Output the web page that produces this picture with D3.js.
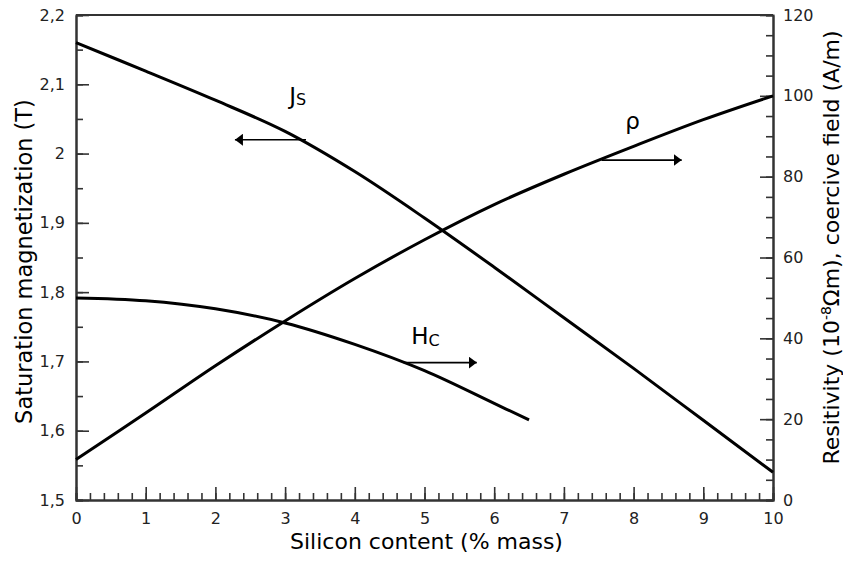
<!DOCTYPE html>
<html>
<head>
<meta charset="utf-8">
<script src="https://cdn.jsdelivr.net/npm/d3@7"></script>
<style>
  body { margin: 0; background: #fff; }
  text { font-family: "DejaVu Sans", sans-serif; }
</style>
</head>
<body>
<div id="chart"></div>
<script>
// silicon content (% mass) and the three measured curves
const siContent = [0, 1, 2, 3, 4, 5, 6, 7, 8, 9, 10];
const saturationJs = [2.16, 2.119, 2.077, 2.032, 1.974, 1.907, 1.836, 1.763, 1.690, 1.615, 1.540];
const resistivityRho = [10, 21.5, 33.2, 44.3, 54.8, 64.4, 73.1, 80.6, 87.5, 94.1, 100];
const hcSiContent = [0, 1, 2, 3, 4, 5, 6, 6.5];
const coerciveHc = [50, 49.3, 47.3, 43.8, 38.5, 32.0, 23.9, 19.8];

// tick labels
const xTicks = [0, 1, 2, 3, 4, 5, 6, 7, 8, 9, 10];
const leftTicks = [1.5, 1.6, 1.7, 1.8, 1.9, 2.0, 2.1, 2.2];
const rightTicks = [0, 20, 40, 60, 80, 100, 120];

// arrows telling which axis a curve belongs to
const arrowSeries = ['Js', 'rho', 'Hc'];
const arrowFrom = [3.3, 7.54, 4.70];
const arrowTo = [2.28, 8.69, 5.75];
const arrowLevel = [2.02, 84.1, 34.0];

const width = 843, height = 563;
const margin = {top: 15, right: 70, bottom: 63, left: 76};
const innerW = width - margin.left - margin.right;
const innerH = height - margin.top - margin.bottom;

const svg = d3.select('#chart').append('svg')
    .attr('width', width)
    .attr('height', height);

svg.append('defs').append('marker')
    .attr('id', 'head')
    .attr('markerUnits', 'userSpaceOnUse')
    .attr('viewBox', '0 -6 8 12')
    .attr('refX', 8).attr('refY', 0)
    .attr('markerWidth', 8).attr('markerHeight', 12)
    .attr('orient', 'auto')
    .append('path')
    .attr('d', 'M0,-6L8,0L0,6Z')
    .attr('fill', '#000');

const g = svg.append('g')
    .attr('transform', 'translate(' + margin.left + ',' + margin.top + ')');

const x = d3.scaleLinear().domain([0, 10]).range([0, innerW]);
const yL = d3.scaleLinear().domain([1.5, 2.2]).range([innerH, 0]);
const yR = d3.scaleLinear().domain([0, 120]).range([innerH, 0]);

const comma = d => String(+d.toFixed(2)).replace('.', ',');

const styleAxis = sel => {
    sel.selectAll('.domain').attr('stroke', '#333').attr('stroke-width', 2);
    sel.selectAll('.tick line').attr('stroke', '#333').attr('stroke-width', 1.6);
    sel.selectAll('.tick text').attr('fill', '#222').style('font-size', '16px');
};

// minor ticks first
g.append('g').attr('transform', 'translate(0,' + innerH + ')')
    .call(d3.axisBottom(x).tickValues(d3.range(0, 10.01, 0.2)).tickSize(-7).tickFormat(''))
    .call(styleAxis);
g.append('g')
    .call(d3.axisLeft(yL).tickValues(d3.range(1.5, 2.201, 0.05)).tickSize(-7).tickFormat(''))
    .call(styleAxis);
g.append('g').attr('transform', 'translate(' + innerW + ',0)')
    .call(d3.axisRight(yR).tickValues(d3.range(0, 120.1, 5)).tickSize(-7).tickFormat(''))
    .call(styleAxis);

// major ticks with labels
g.append('g').attr('transform', 'translate(0,' + innerH + ')')
    .call(d3.axisBottom(x).tickValues(xTicks).tickSizeInner(-13).tickSizeOuter(0).tickPadding(13))
    .call(styleAxis);
g.append('g')
    .call(d3.axisLeft(yL).tickValues(leftTicks).tickSizeInner(-13).tickSizeOuter(0).tickPadding(11).tickFormat(comma))
    .call(styleAxis);
g.append('g').attr('transform', 'translate(' + innerW + ',0)')
    .call(d3.axisRight(yR).tickValues(rightTicks).tickSizeInner(-13).tickSizeOuter(0).tickPadding(10))
    .call(styleAxis);

g.append('line')
    .attr('x1', 0).attr('x2', innerW)
    .attr('y1', 0).attr('y2', 0)
    .attr('stroke', '#333').attr('stroke-width', 2);

// curves
const curve = (xs, ys, yScale) => d3.line()
    .x((d, i) => x(xs[i]))
    .y(d => yScale(d))
    .curve(d3.curveCatmullRom.alpha(0.5))(ys);

[[siContent, saturationJs, yL], [siContent, resistivityRho, yR], [hcSiContent, coerciveHc, yR]]
    .forEach(s => {
        g.append('path')
            .attr('d', curve(s[0], s[1], s[2]))
            .attr('fill', 'none')
            .attr('stroke', '#000')
            .attr('stroke-width', 3);
    });

// arrows
arrowSeries.forEach((s, i) => {
    const yy = s === 'Js' ? yL(arrowLevel[i]) : yR(arrowLevel[i]);
    g.append('line')
        .attr('x1', x(arrowFrom[i])).attr('x2', x(arrowTo[i]))
        .attr('y1', yy).attr('y2', yy)
        .attr('stroke', '#000').attr('stroke-width', 1.6)
        .attr('marker-end', 'url(#head)');
});

// curve labels
const lbl = g.append('text')
    .attr('x', x(3.06)).attr('y', yL(2.0716))
    .style('font-size', '23px');
lbl.append('tspan').text('J');
lbl.append('tspan').attr('dy', 1).style('font-size', '16px').text('S');

g.append('text')
    .attr('x', x(7.88)).attr('y', yR(91.7))
    .style('font-size', '23px')
    .text('ρ');

const hc = g.append('text')
    .attr('x', x(4.81)).attr('y', yR(38.6))
    .style('font-size', '23px');
hc.append('tspan').text('H');
hc.append('tspan').attr('dy', 2).style('font-size', '16px').text('C');

// axis titles
g.append('text')
    .attr('x', innerW / 2 + 2).attr('y', innerH + 49)
    .attr('text-anchor', 'middle')
    .style('font-size', '22px')
    .text('Silicon content (% mass)');

g.append('text')
    .attr('transform', 'translate(' + (32 - margin.left) + ',' + (innerH / 2 + 4) + ') rotate(-90)')
    .attr('text-anchor', 'middle')
    .style('font-size', '22.5px')
    .text('Saturation magnetization (T)');

const rt = g.append('text')
    .attr('transform', 'translate(' + (innerW + 66) + ',' + (innerH / 2 - 10) + ') rotate(-90)')
    .attr('text-anchor', 'middle')
    .style('font-size', '22px');
rt.append('tspan').text('Resitivity (10');
rt.append('tspan').attr('dy', -8).style('font-size', '14px').text('-8');
rt.append('tspan').attr('dy', 8).text('Ωm), coercive field (A/m)');
</script>
</body>
</html>
